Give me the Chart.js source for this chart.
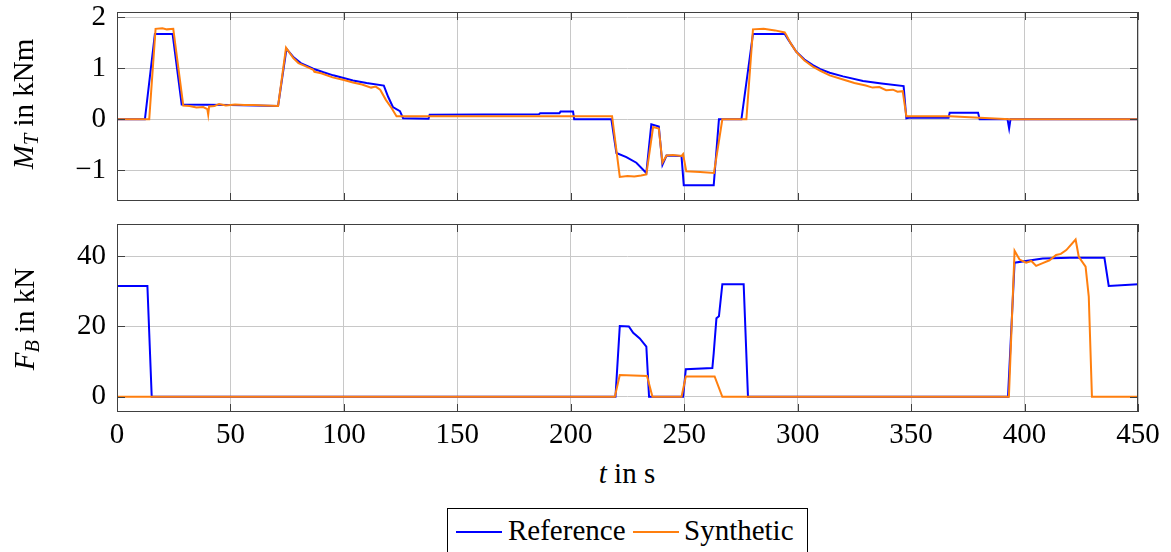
<!DOCTYPE html>
<html><head><meta charset="utf-8">
<script src="https://cdn.jsdelivr.net/npm/chart.js@4.4.1/dist/chart.umd.min.js"></script>
<style>
html,body{margin:0;padding:0;background:#fff;width:1171px;height:552px;overflow:hidden;font-family:'Liberation Serif','Times New Roman',serif;color:#000;}
canvas{position:absolute;left:0;}
#c1{top:0;}
#c2{top:215px;}
.ylab{position:absolute;width:0;height:0;}
.ylab span{position:absolute;left:0;top:0;transform:translate(-50%,-50%) rotate(-90deg);white-space:nowrap;font-size:29px;line-height:29px;}
sub{font-size:70%;vertical-align:-0.25em;line-height:0;}
#xlab{position:absolute;left:627px;top:459px;transform:translateX(-50%);font-size:29px;line-height:29px;white-space:nowrap;}
#legend{position:absolute;left:447px;top:508px;width:359px;height:43px;border:1px solid #000;font-size:29px;line-height:29px;}
.sw{position:absolute;top:22px;width:46px;height:2px;}
.lt{position:absolute;top:7px;white-space:nowrap;}
</style>
</head><body>
<canvas id="c1" width="1171" height="215"></canvas>
<canvas id="c2" width="1171" height="240"></canvas>
<div class="ylab" style="left:23px;top:104px;"><span><i>M</i><sub><i>T</i></sub> in kNm</span></div>
<div class="ylab" style="left:24px;top:319px;"><span><i>F</i><sub><i>B</i></sub> in kN</span></div>
<div id="xlab"><i>t</i> in s</div>
<div id="legend">
  <div class="sw" style="left:8px;background:#0000ff;"></div>
  <div class="lt" style="left:60px;">Reference</div>
  <div class="sw" style="left:185px;background:#ff7f0e;"></div>
  <div class="lt" style="left:236px;">Synthetic</div>
</div>
<script>
// ---- data ----
const xTicks = [0, 50, 100, 150, 200, 250, 300, 350, 400, 450];
const torqueTicks = [-1, 0, 1, 2];
const forceTicks = [0, 20, 40];

// Reference torque M_T (kNm)
const refTorqueT = [0, 12.3, 16.7, 24.5, 28.5, 50, 71, 74.7, 77.7, 81, 86.5, 91, 95.3, 104, 110, 117.6, 119.5, 121.6, 124.7, 126.1, 137.3, 137.8, 186, 186.5, 195, 195.5, 201, 201.5, 217.9, 220.1, 224.5, 228.9, 233.3, 235.5, 238.8, 240.4, 242.2, 248.8, 249.8, 263, 265.3, 275.2, 280.3, 294.3, 296, 299.4, 303, 306.7, 310, 314.1, 320, 328.8, 337, 346.7, 347.9, 349, 366.5, 367, 379.5, 380.2, 392.5, 393.2, 393.8, 450];
const refTorque = [0, 0, 1.67, 1.67, 0.29, 0.28, 0.26, 1.38, 1.22, 1.1, 0.99, 0.92, 0.86, 0.76, 0.71, 0.66, 0.44, 0.24, 0.16, 0.02, 0.01, 0.09, 0.1, 0.12, 0.12, 0.15, 0.15, 0.0, 0.0, -0.66, -0.74, -0.85, -1.05, -0.1, -0.14, -0.89, -0.71, -0.72, -1.29, -1.29, 0, 0, 1.67, 1.67, 1.55, 1.32, 1.17, 1.06, 0.98, 0.91, 0.84, 0.75, 0.7, 0.65, 0.02, 0.03, 0.03, 0.13, 0.13, 0.0, 0.0, -0.18, 0.0, 0.0];

// Synthetic torque M_T (kNm)
const synTorqueT = [0, 14.2, 17, 20, 22, 24.8, 29.2, 32, 35, 38, 39.8, 40.2, 40.6, 43, 45, 48, 52, 56, 60, 65, 71, 74.5, 77.7, 80, 83, 86.5, 87, 90, 95, 100, 104, 108, 112, 114, 116, 118.5, 121, 123.2, 218.2, 221.6, 225, 228, 231, 233.3, 236.3, 238.8, 240.4, 242.2, 245, 248.8, 249.5, 250.9, 257, 263.1, 266.8, 277.4, 280.3, 285, 290, 294.3, 295, 297, 299.4, 303, 306.7, 310, 314.1, 320, 325, 330, 333, 336, 339, 342, 344, 346.3, 347.9, 367, 393.5, 450];
const synTorque = [0, 0, 1.77, 1.78, 1.76, 1.77, 0.27, 0.26, 0.23, 0.24, 0.2, 0.09, 0.25, 0.26, 0.3, 0.27, 0.29, 0.28, 0.28, 0.27, 0.26, 1.4, 1.2, 1.1, 1.04, 0.97, 0.93, 0.9, 0.82, 0.77, 0.72, 0.68, 0.62, 0.64, 0.58, 0.38, 0.22, 0.06, 0.06, -1.13, -1.11, -1.12, -1.1, -1.08, -0.15, -0.18, -0.85, -0.71, -0.7, -0.72, -0.68, -1.02, -1.03, -1.05, 0, 0, 1.76, 1.77, 1.74, 1.7, 1.65, 1.48, 1.32, 1.15, 1.03, 0.95, 0.86, 0.78, 0.71, 0.66, 0.62, 0.63, 0.57, 0.58, 0.54, 0.55, 0.06, 0.06, 0, 0];

// Reference brake force F_B (kN)
const refForceT = [0, 13.4, 15.3, 219.7, 221.6, 225.6, 227.5, 230.4, 233.3, 234.5, 249.5, 250.7, 262.4, 263, 264.2, 265.3, 266.8, 276.2, 278.1, 392.7, 395.6, 408, 420, 435.2, 437.1, 450];
const refForce = [31.5, 31.5, 0, 0, 20.1, 20, 18.2, 16.6, 14.3, 0, 0, 7.85, 8.2, 12.4, 22.3, 22.9, 32, 32, 0, 0, 38.1, 39.3, 39.5, 39.5, 31.5, 32];

// Synthetic brake force F_B (kN)
const synForceT = [0, 219.4, 221.6, 233.6, 236, 248.8, 250.7, 263.4, 266.8, 393.1, 395.6, 397.8, 400.7, 403, 405.1, 408, 411, 413.9, 416, 418.4, 422.5, 423.9, 426.9, 428.3, 429.7, 450];
const synForce = [0, 0, 6.2, 5.9, 0, 0, 5.8, 5.8, 0, 0, 41.5, 39, 38.1, 38.6, 37.2, 38, 38.8, 40.3, 40.6, 41.7, 44.7, 39.8, 37, 28.5, 0, 0];

// ---- helpers ----
const pts = (ts, vs) => ts.map((t, i) => ({x: t, y: vs[i]}));
const FAMILY = "'Liberation Serif', serif";
const FONT = {family: FAMILY, size: 29};
const fmt = v => String(v).replace('-', '\u2212');

const frameTicks = {
  id: 'frameTicks',
  afterDraw(chart) {
    const {ctx, chartArea: a, scales} = chart;
    ctx.save();
    ctx.strokeStyle = '#404040';
    ctx.lineWidth = 1;
    const L = 8;
    ctx.beginPath();
    scales.x.ticks.forEach(t => {
      const p = Math.round(scales.x.getPixelForValue(t.value)) + 0.5;
      ctx.moveTo(p, a.bottom); ctx.lineTo(p, a.bottom - L);
      ctx.moveTo(p, a.top); ctx.lineTo(p, a.top + L);
    });
    scales.y.ticks.forEach(t => {
      const p = Math.round(scales.y.getPixelForValue(t.value)) + 0.5;
      ctx.moveTo(a.left, p); ctx.lineTo(a.left + L, p);
      ctx.moveTo(a.right, p); ctx.lineTo(a.right - L, p);
    });
    ctx.stroke();
    ctx.strokeRect(Math.round(a.left) + 0.5, Math.round(a.top) + 0.5, Math.round(a.right - a.left) - 1, Math.round(a.bottom - a.top) - 1);
    ctx.restore();
  }
};

function makeChart(id, refData, synData, yMin, yMax, yTicks, showX, padTop, padBottom, xHeight) {
  return new Chart(document.getElementById(id), {
    type: 'line',
    data: {
      datasets: [
        {label: 'Reference', data: refData, borderColor: '#0000ff', borderWidth: 2, pointRadius: 0, tension: 0, order: 2},
        {label: 'Synthetic', data: synData, borderColor: '#ff7f0e', borderWidth: 2, pointRadius: 0, tension: 0, order: 1}
      ]
    },
    options: {
      responsive: false, animation: false,
      font: FONT,
      layout: {padding: {left: 0, right: 33, top: padTop, bottom: padBottom}},
      plugins: {legend: {display: false}, tooltip: {enabled: false}},
      scales: {
        x: {
          type: 'linear', min: 0, max: 450,
          afterBuildTicks: s => { s.ticks = xTicks.map(v => ({value: v})); },
          afterFit: s => { s.height = xHeight; s.paddingLeft = 0; s.paddingRight = 0; },
          grid: {color: '#c8c8c8', lineWidth: 1, drawTicks: false},
          border: {display: false},
          ticks: {display: showX, font: FONT, color: '#000', padding: 6, maxRotation: 0, callback: v => fmt(v)}
        },
        y: {
          type: 'linear', min: yMin, max: yMax,
          afterBuildTicks: s => { s.ticks = yTicks.map(v => ({value: v})); },
          afterFit: s => { s.width = 117; s.paddingTop = 0; s.paddingBottom = 0; },
          grid: {color: '#c8c8c8', lineWidth: 1, drawTicks: false},
          border: {display: false},
          ticks: {font: FONT, color: '#000', padding: 11, callback: v => fmt(v)}
        }
      }
    },
    plugins: [frameTicks]
  });
}

function draw() {
  Chart.defaults.font.family = FAMILY;
  Chart.defaults.font.size = 29;
  makeChart('c1', pts(refTorqueT, refTorque), pts(synTorqueT, synTorque), -1.6, 2.1, torqueTicks, false, 12, 14, 0);
  makeChart('c2', pts(refForceT, refForce), pts(synForceT, synForce), -4.3, 49.1, forceTicks, true, 9, 0, 43);
}
if (document.fonts && document.fonts.load) {
  Promise.all([document.fonts.load('29px "Liberation Serif"'), document.fonts.load('italic 29px "Liberation Serif"')]).then(draw, draw);
} else { draw(); }
</script>
</body></html>
